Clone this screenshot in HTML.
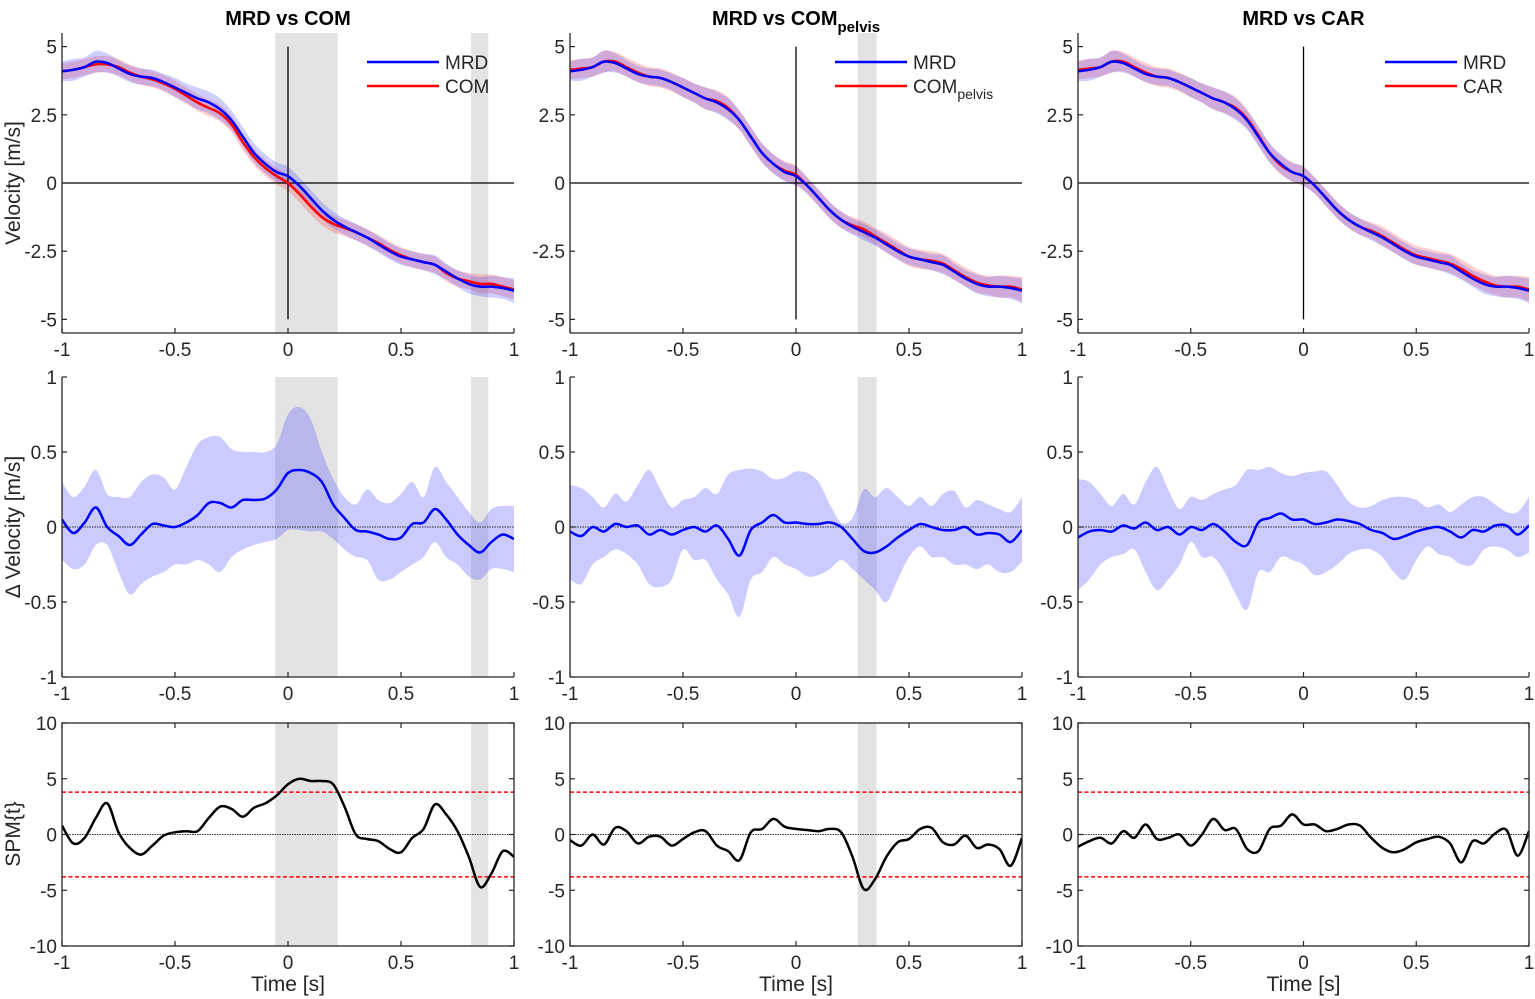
<!DOCTYPE html>
<html><head><meta charset="utf-8"><style>
html,body{margin:0;padding:0;background:#fff}
svg{display:block;font-family:"Liberation Sans",Arial,sans-serif}
</style></head><body>
<svg id="fig" width="1535" height="999" viewBox="0 0 1535 999" xmlns="http://www.w3.org/2000/svg"></svg>
<script>
// ---- data (t from -1 to 1 in steps of 0.05) ----
const tickX = [-1,-0.5,0,0.5,1];
const tickXLabels = ["-1","-0.5","0","0.5","1"];
const tickV = [5,2.5,0,-2.5,-5];
const tickVLabels = ["5","2.5","0","-2.5","-5"];
const tickD = [1,0.5,0,-0.5,-1];
const tickDLabels = ["1","0.5","0","-0.5","-1"];
const tickS = [10,5,0,-5,-10];
const tickSLabels = ["10","5","0","-5","-10"];
const titles = ["MRD vs COM","MRD vs COM","MRD vs CAR"];
const legend2 = ["COM","COM","CAR"];
const spmThreshold = [3.8,3.8,3.8];
const sigStart = [[-0.057,0.81],[0.273],[]];
const sigEnd = [[0.22,0.886],[0.357],[]];

const velMRD = [4.1,4.15,4.25,4.45,4.4,4.2,4.0,3.9,3.85,3.7,3.5,3.3,3.1,2.95,2.7,2.3,1.7,1.1,0.7,0.4,0.25,-0.1,-0.55,-1.0,-1.35,-1.6,-1.8,-2.0,-2.25,-2.5,-2.7,-2.8,-2.9,-3.0,-3.25,-3.5,-3.7,-3.8,-3.8,-3.85,-3.95];
const sdMRD = [0.35,0.4,0.35,0.4,0.35,0.3,0.3,0.3,0.3,0.3,0.35,0.35,0.4,0.4,0.4,0.35,0.35,0.35,0.35,0.35,0.35,0.3,0.3,0.3,0.3,0.3,0.3,0.3,0.3,0.3,0.3,0.3,0.3,0.35,0.3,0.3,0.35,0.35,0.4,0.4,0.45];
const velCOM = [4.1,4.15,4.25,4.35,4.35,4.25,4.05,3.9,3.8,3.65,3.45,3.2,2.95,2.75,2.55,2.15,1.5,0.95,0.55,0.25,0.0,-0.4,-0.85,-1.25,-1.5,-1.65,-1.8,-2.0,-2.2,-2.45,-2.65,-2.8,-2.9,-3.0,-3.3,-3.5,-3.6,-3.7,-3.7,-3.8,-3.9];
const sdCOM = [0.3,0.3,0.3,0.3,0.3,0.3,0.3,0.3,0.3,0.3,0.3,0.3,0.3,0.3,0.3,0.3,0.3,0.3,0.3,0.3,0.3,0.3,0.3,0.3,0.3,0.3,0.3,0.3,0.3,0.3,0.3,0.3,0.3,0.3,0.3,0.3,0.3,0.35,0.35,0.35,0.35];
const velPelvis = [4.15,4.2,4.25,4.45,4.45,4.25,4.05,3.9,3.85,3.7,3.5,3.3,3.1,3.0,2.75,2.3,1.7,1.1,0.7,0.45,0.3,-0.1,-0.55,-1.0,-1.35,-1.55,-1.7,-1.95,-2.2,-2.45,-2.7,-2.8,-2.85,-2.95,-3.2,-3.45,-3.65,-3.75,-3.8,-3.8,-3.9];
const sdPelvis = [0.35,0.35,0.35,0.4,0.35,0.35,0.35,0.35,0.35,0.35,0.35,0.35,0.4,0.4,0.4,0.35,0.35,0.35,0.35,0.35,0.35,0.3,0.3,0.3,0.3,0.3,0.3,0.3,0.35,0.35,0.35,0.35,0.35,0.35,0.35,0.35,0.35,0.35,0.4,0.4,0.45];
const velCAR = [4.15,4.2,4.25,4.45,4.45,4.25,4.05,3.9,3.85,3.7,3.5,3.3,3.1,2.95,2.75,2.35,1.75,1.1,0.65,0.4,0.25,-0.1,-0.55,-1.0,-1.35,-1.6,-1.75,-1.95,-2.2,-2.45,-2.65,-2.75,-2.85,-2.95,-3.15,-3.4,-3.6,-3.75,-3.8,-3.8,-3.9];
const sdCAR = [0.35,0.35,0.35,0.4,0.35,0.35,0.35,0.35,0.35,0.35,0.35,0.35,0.4,0.4,0.4,0.35,0.35,0.35,0.35,0.35,0.35,0.3,0.3,0.3,0.3,0.3,0.3,0.35,0.35,0.35,0.35,0.35,0.35,0.35,0.35,0.35,0.35,0.35,0.4,0.4,0.45];

const dMean1 = [0.05,-0.04,0.03,0.13,0.0,-0.06,-0.12,-0.05,0.02,0.01,0.0,0.03,0.08,0.16,0.16,0.13,0.18,0.18,0.19,0.25,0.36,0.38,0.36,0.3,0.15,0.06,-0.02,-0.03,-0.05,-0.08,-0.07,0.02,0.03,0.12,0.05,-0.05,-0.12,-0.17,-0.1,-0.05,-0.08];
const dUp1 = [0.3,0.2,0.27,0.38,0.22,0.2,0.2,0.3,0.35,0.33,0.25,0.4,0.55,0.6,0.6,0.52,0.5,0.5,0.5,0.55,0.75,0.8,0.72,0.5,0.32,0.2,0.15,0.25,0.18,0.16,0.22,0.3,0.2,0.4,0.3,0.2,0.1,0.03,0.12,0.14,0.14];
const dLo1 = [-0.22,-0.28,-0.25,-0.12,-0.12,-0.3,-0.45,-0.38,-0.33,-0.3,-0.25,-0.25,-0.22,-0.25,-0.3,-0.2,-0.15,-0.12,-0.1,-0.08,-0.02,-0.02,-0.03,-0.03,-0.08,-0.15,-0.2,-0.22,-0.35,-0.35,-0.3,-0.25,-0.2,-0.1,-0.2,-0.25,-0.33,-0.35,-0.28,-0.28,-0.3];
const dMean2 = [-0.03,-0.06,0.0,-0.03,0.02,0.0,0.01,-0.05,-0.02,-0.05,-0.02,0.0,-0.03,0.01,-0.08,-0.19,-0.02,0.03,0.08,0.03,0.03,0.02,0.02,0.03,0.0,-0.08,-0.16,-0.17,-0.13,-0.07,-0.02,0.02,0.0,-0.02,-0.02,0.0,-0.05,-0.04,-0.05,-0.1,-0.02];
const dUp2 = [0.28,0.26,0.2,0.13,0.22,0.17,0.28,0.38,0.25,0.13,0.18,0.2,0.26,0.22,0.35,0.38,0.39,0.37,0.32,0.33,0.37,0.36,0.3,0.15,0.03,0.06,0.25,0.2,0.26,0.2,0.14,0.2,0.14,0.22,0.24,0.13,0.18,0.15,0.12,0.1,0.2];
const dLo2 = [-0.35,-0.38,-0.25,-0.2,-0.15,-0.18,-0.25,-0.38,-0.4,-0.35,-0.15,-0.22,-0.22,-0.35,-0.45,-0.6,-0.35,-0.3,-0.2,-0.25,-0.28,-0.33,-0.32,-0.28,-0.22,-0.28,-0.35,-0.42,-0.5,-0.35,-0.2,-0.13,-0.2,-0.2,-0.25,-0.25,-0.28,-0.25,-0.3,-0.3,-0.23];
const dMean3 = [-0.07,-0.03,-0.02,-0.03,0.01,-0.01,0.03,-0.02,0.0,-0.05,0.0,-0.02,0.02,-0.03,-0.1,-0.12,0.03,0.06,0.09,0.05,0.05,0.02,0.03,0.05,0.04,0.02,-0.02,-0.04,-0.08,-0.06,-0.03,-0.01,0.0,-0.03,-0.07,-0.02,-0.03,0.01,0.01,-0.05,0.01];
const dUp3 = [0.32,0.3,0.22,0.14,0.22,0.15,0.3,0.4,0.25,0.12,0.2,0.18,0.22,0.25,0.28,0.38,0.38,0.4,0.36,0.34,0.36,0.37,0.37,0.28,0.17,0.13,0.14,0.18,0.2,0.2,0.18,0.13,0.15,0.1,0.15,0.2,0.2,0.15,0.1,0.1,0.2];
const dLo3 = [-0.42,-0.35,-0.25,-0.2,-0.18,-0.15,-0.3,-0.42,-0.35,-0.25,-0.1,-0.2,-0.2,-0.3,-0.45,-0.55,-0.3,-0.3,-0.2,-0.22,-0.25,-0.32,-0.3,-0.25,-0.18,-0.15,-0.15,-0.2,-0.3,-0.35,-0.22,-0.13,-0.18,-0.2,-0.25,-0.25,-0.15,-0.13,-0.15,-0.2,-0.17];

const spm1 = [0.8,-0.8,-0.3,1.5,2.8,0.2,-1.2,-1.8,-1.0,-0.1,0.2,0.3,0.3,1.5,2.5,2.3,1.6,2.4,2.8,3.5,4.5,5.0,4.8,4.8,4.5,2.5,0.0,-0.4,-0.6,-1.3,-1.6,-0.3,0.5,2.7,1.8,0.3,-2.0,-4.7,-3.5,-1.5,-2.0];
const spm2 = [-0.5,-1.0,0.0,-0.9,0.6,0.3,-0.8,-0.2,-0.2,-1.0,-0.4,0.2,0.3,-1.0,-1.5,-2.3,0.2,0.5,1.4,0.7,0.5,0.4,0.3,0.5,0.2,-2.0,-4.9,-4.0,-2.0,-0.7,-0.4,0.5,0.6,-0.7,-0.9,-0.1,-1.2,-0.9,-1.3,-2.8,-0.3];
const spm3 = [-1.1,-0.6,-0.3,-0.8,0.3,-0.3,0.9,-0.4,-0.3,0.0,-1.0,0.0,1.4,0.4,0.5,-1.3,-1.5,0.5,0.8,1.8,0.9,0.9,0.3,0.5,0.9,0.8,-0.3,-1.2,-1.6,-1.3,-0.7,-0.4,-0.2,-0.8,-2.5,-0.6,-0.8,0.1,0.4,-1.9,0.3];

// ---- layout ----
const colX = [[62,514],[570,1022],[1078,1529]];
const rowY = [[33,333],[377,677],[723,946]];
const rowLim = [[-5.5,5.5],[-1,1],[-10,10]];
const NS = "http://www.w3.org/2000/svg";
const svg = document.getElementById('fig');
function mk(tag, attrs, parent){
  const e = document.createElementNS(NS, tag);
  for (const k in attrs) e.setAttribute(k, attrs[k]);
  (parent||svg).appendChild(e); return e;
}
function sx(c,t){ const [a,b]=colX[c]; return a+(t+1)/2*(b-a); }
function sy(r,v){ const [top,bot]=rowY[r]; const [lo,hi]=rowLim[r]; return bot-(v-lo)/(hi-lo)*(bot-top); }
function tArr(n){ const a=[]; for(let i=0;i<n;i++) a.push(-1+2*i/(n-1)); return a; }
function smooth(pts, moveFirst){
  let d = moveFirst ? `M${pts[0][0].toFixed(1)},${pts[0][1].toFixed(1)}` : `L${pts[0][0].toFixed(1)},${pts[0][1].toFixed(1)}`;
  for (let i=0;i<pts.length-1;i++){
    const p0=pts[Math.max(0,i-1)], p1=pts[i], p2=pts[i+1], p3=pts[Math.min(pts.length-1,i+2)];
    const c1=[p1[0]+(p2[0]-p0[0])/6, p1[1]+(p2[1]-p0[1])/6];
    const c2=[p2[0]-(p3[0]-p1[0])/6, p2[1]-(p3[1]-p1[1])/6];
    d += `C${c1[0].toFixed(1)},${c1[1].toFixed(1)} ${c2[0].toFixed(1)},${c2[1].toFixed(1)} ${p2[0].toFixed(1)},${p2[1].toFixed(1)}`;
  }
  return d;
}
function linePath(c,r,vals){ const t=tArr(vals.length); return smooth(vals.map((v,i)=>[sx(c,t[i]),sy(r,v)]), true); }
function bandPath(c,r,up,lo){
  const t=tArr(up.length);
  const top=up.map((v,i)=>[sx(c,t[i]),sy(r,v)]);
  const bot=lo.map((v,i)=>[sx(c,t[i]),sy(r,v)]).reverse();
  return smooth(top,true)+smooth(bot,false)+'Z';
}
function clipFor(c,r){
  const id=`clip-${c}-${r}`;
  const cp=mk('clipPath',{id});
  mk('rect',{x:colX[c][0],y:rowY[r][0],width:colX[c][1]-colX[c][0],height:rowY[r][1]-rowY[r][0]},cp);
  return `url(#${id})`;
}
const txtBase = {'font-size':19,fill:'#262626'};
function text(x,y,s,anchor,attrs,name){
  const e=mk('text',Object.assign({x,y,'text-anchor':anchor},txtBase,attrs||{}));
  e.textContent=s;
  
  
  return e;
}

const velSeries = [[velMRD,sdMRD,velCOM,sdCOM],[velMRD,sdMRD,velPelvis,sdPelvis],[velMRD,sdMRD,velCAR,sdCAR]];
const dSeries = [[dMean1,dUp1,dLo1],[dMean2,dUp2,dLo2],[dMean3,dUp3,dLo3]];
const spmSeries = [spm1,spm2,spm3];

for (let c=0;c<3;c++){
  for (let r=0;r<3;r++){
    const g = mk('g',{});
    
    
    const clip = clipFor(c,r);
    // significance shading
    for (let k=0;k<sigStart[c].length;k++){
      const x0=sx(c,sigStart[c][k]), x1=sx(c,sigEnd[c][k]);
      const rect=mk('rect',{x:x0,y:rowY[r][0],width:x1-x0,height:rowY[r][1]-rowY[r][0],fill:'#e3e3e3'},g);
      
      
    }
    if (r===0){
      const [m1,s1,m2,s2]=velSeries[c];
      const up1=m1.map((v,i)=>v+s1[i]), lo1=m1.map((v,i)=>v-s1[i]);
      const up2=m2.map((v,i)=>v+s2[i]), lo2=m2.map((v,i)=>v-s2[i]);
      const b2=mk('path',{d:bandPath(c,r,up2,lo2),fill:'rgba(255,60,60,0.25)','clip-path':clip},g);
      
      
      const b1=mk('path',{d:bandPath(c,r,up1,lo1),fill:'rgba(60,60,255,0.25)','clip-path':clip},g);
      
      
      mk('line',{x1:colX[c][0],x2:colX[c][1],y1:sy(r,0),y2:sy(r,0),stroke:'#000','stroke-width':1.3},g);
      mk('line',{x1:sx(c,0),x2:sx(c,0),y1:sy(r,5),y2:sy(r,-5),stroke:'#000','stroke-width':1.3},g);
      const l2=mk('path',{d:linePath(c,r,m2),fill:'none',stroke:'#ff0000','stroke-width':2.5,'clip-path':clip},g);
      
      
      const l1=mk('path',{d:linePath(c,r,m1),fill:'none',stroke:'#0000ff','stroke-width':2.5,'clip-path':clip},g);
      
      
    } else if (r===1){
      const [m,up,lo]=dSeries[c];
      const b=mk('path',{d:bandPath(c,r,up,lo),fill:'rgba(70,70,255,0.28)','clip-path':clip},g);
      
      
      mk('line',{x1:colX[c][0],x2:colX[c][1],y1:sy(r,0),y2:sy(r,0),stroke:'#333','stroke-width':1,'stroke-dasharray':'1.5,1'},g);
      const l=mk('path',{d:linePath(c,r,m),fill:'none',stroke:'#0000ff','stroke-width':2.5,'clip-path':clip},g);
      
      
    } else {
      mk('line',{x1:colX[c][0],x2:colX[c][1],y1:sy(r,0),y2:sy(r,0),stroke:'#333','stroke-width':1,'stroke-dasharray':'1.5,1'},g);
      for (const th of [spmThreshold[c],-spmThreshold[c]]){
        const tl=mk('line',{x1:colX[c][0],x2:colX[c][1],y1:sy(r,th),y2:sy(r,th),stroke:'#ff0000','stroke-width':1.6,'stroke-dasharray':'4,2.5'},g);
        
        
      }
      const l=mk('path',{d:linePath(c,r,spmSeries[c]),fill:'none',stroke:'#000','stroke-width':2.5,'clip-path':clip},g);
      
      
    }
    // axes
    const [x0,x1]=colX[c], [y0,y1]=rowY[r];
    const ax={stroke:'#262626','stroke-width':1.3,fill:'none'};
    if (r===2) mk('rect',Object.assign({x:x0,y:y0,width:x1-x0,height:y1-y0},ax),g);
    else { mk('line',Object.assign({x1:x0,x2:x0,y1:y0,y2:y1},ax),g); mk('line',Object.assign({x1:x0,x2:x1,y1:y1,y2:y1},ax),g); }
    // x ticks
    tickX.forEach((t,i)=>{
      const X=sx(c,t);
      mk('line',{x1:X,x2:X,y1:y1,y2:y1-5,stroke:'#262626','stroke-width':1.2},g);
      if (r===2) mk('line',{x1:X,x2:X,y1:y0,y2:y0+5,stroke:'#262626','stroke-width':1.2},g);
      text(X,y1+23,tickXLabels[i],'middle',{},'x-tick-label');
    });
    const ticks=[tickV,tickD,tickS][r], labs=[tickVLabels,tickDLabels,tickSLabels][r];
    ticks.forEach((v,i)=>{
      const Y=sy(r,v);
      mk('line',{x1:x0,x2:x0+5,y1:Y,y2:Y,stroke:'#262626','stroke-width':1.2},g);
      if (r===2) mk('line',{x1:x1,x2:x1-5,y1:Y,y2:Y,stroke:'#262626','stroke-width':1.2},g);
      text(x0-5,Y+7,labs[i],'end',{},'y-tick-label');
    });
    if (r===2) text((x0+x1)/2,991,'Time [s]','middle',{'font-size':21},'x-axis-title');
  }
  // titles
  const cx=(colX[c][0]+colX[c][1])/2;
  const tt=text(cx,25,titles[c],'middle',{'font-size':20,'font-weight':'bold',fill:'#000'},'panel-title');
  if (c===1){ const s=mk('tspan',{'font-size':15,dy:7},tt); s.textContent='pelvis'; }
  // legend
  const lx=[367,835,1385][c];
  const lgA=mk('line',{x1:lx,x2:lx+72,y1:62,y2:62,stroke:'#0000ff','stroke-width':2.5});
  
  
  text(lx+78,69,'MRD','start',{},'legend-mrd-label');
  const lgB=mk('line',{x1:lx,x2:lx+72,y1:86,y2:86,stroke:'#ff0000','stroke-width':2.5});
  
  
  const lt=text(lx+78,93,legend2[c],'start',{},'legend-comparison-label');
  if (c===1){ const s=mk('tspan',{'font-size':14,dy:6},lt); s.textContent='pelvis'; }
}
// y axis titles
[[183,'Velocity [m/s]'],[527,'\u0394 Velocity [m/s]'],[834,'SPM{t}']].forEach(([y,s])=>{
  const e=text(20,y,s,'middle',{'font-size':21,transform:`rotate(-90 20 ${y})`},'y-axis-title');
});
</script>
</body></html>
